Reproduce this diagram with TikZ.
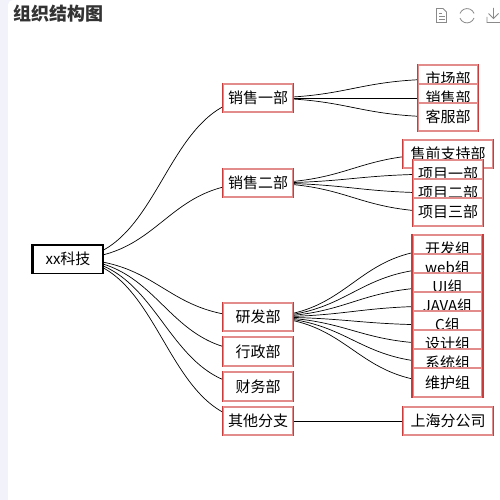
\documentclass[tikz,border=0pt]{standalone}
\usepackage{fontspec}
\setmainfont{Noto Sans CJK SC}
\usetikzlibrary{calc}
\definecolor{Ink}{HTML}{000000}
\definecolor{Title}{HTML}{333333}
\definecolor{Icon}{HTML}{8A8A8A}
\definecolor{Side}{HTML}{F2F3FA}
\definecolor{Frame}{HTML}{C93C3C}
\definecolor{FramePale}{HTML}{E28C8C}
\pgfdeclarelayer{panel}
\pgfdeclarelayer{links}
\pgfsetlayers{panel,links,main}
\tikzset{
  box/.style={draw=FramePale,line width=1.6pt,fill=white,minimum height=28.5pt,inner sep=0pt,
    text height=12pt,text depth=1pt,font=\fontsize{15}{18}\selectfont,text=black,
    append after command={(\tikzlastnode.north west) edge[side] (\tikzlastnode.south west)
      (\tikzlastnode.north east) edge[side] (\tikzlastnode.south east)}},
  side/.style={draw=Frame,line width=1.8pt},
  dept/.style={box,minimum width=69.5pt},
  wide/.style={box,minimum width=89.5pt},
  shop/.style={box,minimum width=59.5pt},
  rootbox/.style={draw=Ink,line width=1.5pt,fill=white,minimum width=70pt,minimum height=28.5pt,inner sep=0pt,
    text height=12pt,text depth=1pt,font=\fontsize{15}{18}\selectfont},
  link/.style={draw=Ink,line width=0.7pt},
  icon/.style={draw=Icon,line width=0.8pt},
}
\newcommand{\linknodes}[2]{\draw[link] (#1.center) .. controls ($(#1.center)!.5!(#2.center |- #1.center)$) and ($(#2.center)!.5!(#1.center |- #2.center)$) .. (#2.center);}

\begin{document}
\begin{tikzpicture}[x=1pt,y=-1pt]
 \useasboundingbox (0,0) rectangle (500,500);
 \begin{pgfonlayer}{panel}
  \fill[Side] (0,0) rectangle (500,500);
  \fill[white] (8,500) [rounded corners=5pt] -- (8,0) [sharp corners] -- (500,0) -- (500,500) -- cycle;
 \end{pgfonlayer}
 \node[anchor=west,text=Title,inner sep=0pt,font=\fontsize{18}{20}\selectfont\bfseries] (title) at (13,14) {组织结构图};
 % file, refresh and download icons
 \draw[icon] (436.5,8.5) -- (443,8.5) -- (446.5,12) -- (446.5,22.5) -- (436.5,22.5) -- cycle;
 \draw[icon] (439,13) -- (442,13) (439,16) -- (444.5,16) (439,19) -- (444.5,19);
 \draw[icon] (460,13.5) arc[start angle=160,end angle=20,x radius=7.5,y radius=-7.5];
 \draw[icon] (474,18) arc[start angle=-20,end angle=-160,x radius=7.5,y radius=-7.5];
 \draw[icon] (493.5,8) -- (493.5,18) (488.5,13.5) -- (493.5,18.5) -- (498.5,13.5) (487,17) -- (487,22.5) -- (500,22.5);

 \node[rootbox] (root) at (68,259) {xx科技};
 \draw[draw=Ink,line width=3pt] (root.north west) -- (root.south west);

 \node[dept] (sales1) at (258,98) {销售一部};
 \node[dept] (sales2) at (258,183) {销售二部};
 \node[dept] (rd) at (258,317) {研发部};
 \node[dept] (admin) at (258,351.5) {行政部};
 \node[dept] (finance) at (258,386.5) {财务部};
 \node[dept] (branch) at (258,421) {其他分支};

 \node[shop] (market) at (448,79) {市场部};
 \node[shop] (sale) at (448,98) {销售部};
 \node[shop] (service) at (448,117) {客服部};

 \node[wide] (presale) at (448,154) {售前支持部};
 \node[dept] (proj1) at (448,174) {项目一部};
 \node[dept] (proj2) at (448,193) {项目二部};
 \node[dept] (proj3) at (448,212) {项目三部};

 \node[dept] (dev) at (447.5,249) {开发组};
 \node[dept] (web) at (447.5,268) {web组};
 \node[dept] (ui) at (447.5,287) {UI组};
 \node[dept] (java) at (447.5,306) {JAVA组};
 \node[dept] (cgroup) at (447.5,325) {C组};
 \node[dept] (design) at (447.5,344) {设计组};
 \node[dept] (system) at (447.5,363) {系统组};
 \node[dept] (maint) at (447.5,382.5) {维护组};

 \node[wide] (shanghai) at (448,421) {上海分公司};

 \begin{pgfonlayer}{links}
  \foreach \src/\dst in {root/sales1,root/sales2,root/rd,root/admin,root/finance,root/branch,
    sales1/market,sales1/sale,sales1/service,
    sales2/presale,sales2/proj1,sales2/proj2,sales2/proj3,
    rd/dev,rd/web,rd/ui,rd/java,rd/cgroup,rd/design,rd/system,rd/maint,
    branch/shanghai}
   {\linknodes{\src}{\dst}}
 \end{pgfonlayer}
\end{tikzpicture}
\end{document}
